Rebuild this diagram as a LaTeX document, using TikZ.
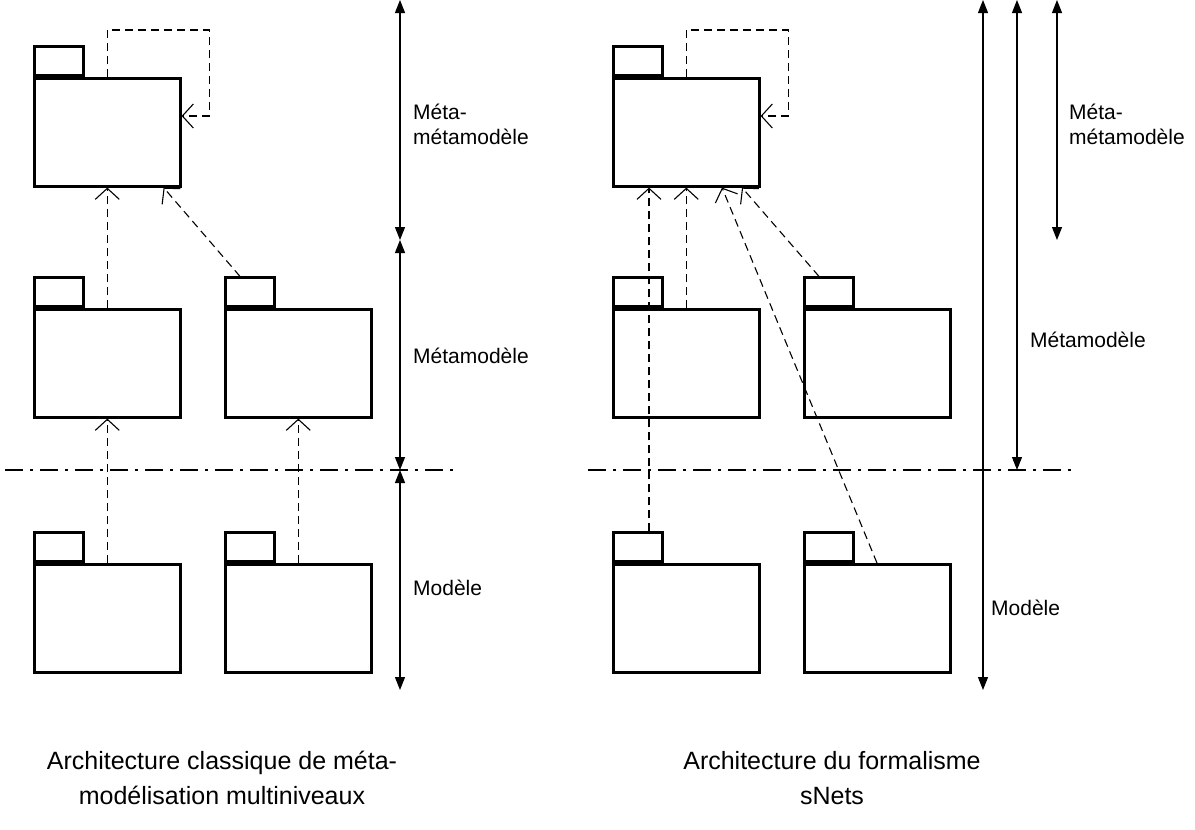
\documentclass[tikz,border=0pt]{standalone}
\usepackage{fontspec}
\setmainfont{Liberation Sans}
\usetikzlibrary{arrows.meta,calc}
\tikzset{
  pkgbody/.style={draw,line width=2.6pt,minimum width=146pt,minimum height=108pt,inner sep=0pt,anchor=north west},
  pkgtab/.style={draw,line width=2.6pt,minimum width=49pt,minimum height=29pt,inner sep=0pt,anchor=south west},
  dep/.style={line width=1.1pt,dash pattern=on 8pt off 5pt,-{Straight Barb[length=11pt,width=24pt,line width=1.1pt]}},
  dimline/.style={line width=1.1pt,{Triangle[length=13pt,width=10pt]}-{Triangle[length=13pt,width=10pt]}},
  levelline/.style={line width=2pt,dash pattern=on 18pt off 7pt on 3pt off 7pt},
  lbl/.style={anchor=west,align=left,inner sep=0pt,font=\fontsize{21}{25}\selectfont},
  caption/.style={align=center,inner sep=0pt,font=\fontsize{25}{35}\selectfont}
}
% package: tab + body
\newcommand{\pkg}[3]{%
  \node[pkgtab] (#1tab) at (#2,#3) {};
  \node[pkgbody] (#1) at (#2,#3) {};}
\begin{document}
\begin{tikzpicture}[x=1pt,y=-1pt]
\useasboundingbox (0,0) rectangle (1195,830);

% classic architecture
\pkg{mmm}{33}{77}
\pkg{mmA}{33}{308}
\pkg{mmB}{224}{308}
\pkg{mA}{33}{563}
\pkg{mB}{224}{563}

\draw[dep] (mmm.north) |- ++(102,-47) |- ($(mmm.north east)+(0,39)$);
\draw[dep] (mmA.north) -- (mmm.south);
\draw[dep] ($(mmBtab.north west)+(16,0)$) -- ($(mmm.south east)+(-18,0)$);
\draw[dep] (mA.north) -- (mmA.south);
\draw[dep] (mB.north) -- (mmB.south);

\draw[levelline] (5,470) -- (455,470);
\draw[dimline] (400,0) -- (400,240);
\draw[dimline] (400,240) -- (400,470);
\draw[dimline] (400,470) -- (400,690);

\node[lbl] (lmmm) at (413,124) {Méta-\\métamodèle};
\node[lbl] (lmm) at (413,356) {Métamodèle};
\node[lbl] (lm) at (413,588) {Modèle};

% sNets architecture
\pkg{smmm}{612}{77}
\pkg{smmA}{612}{308}
\pkg{smmB}{803}{308}
\pkg{smA}{612}{563}
\pkg{smB}{803}{563}

\draw[dep] (smmm.north) |- ++(102,-47) |- ($(smmm.north east)+(0,39)$);
\draw[dep] ($(smAtab.north west)+(37,0)$) -- ($(smmm.south west)+(37,0)$);
\draw[dep] (smmA.north) -- (smmm.south);
\draw[dep] ($(smB.north west)+(74,0)$) -- ($(smmm.south west)+(110,0)$);
\draw[dep] ($(smmBtab.north west)+(16,0)$) -- ($(smmm.south west)+(130,0)$);

\draw[levelline] (588,470) -- (1075,470);
\draw[dimline] (983,0) -- (983,690);
\draw[dimline] (1017,0) -- (1017,470);
\draw[dimline] (1057,0) -- (1057,240);

\node[lbl] (slmmm) at (1069,124) {Méta-\\métamodèle};
\node[lbl] (slmm) at (1030,340) {Métamodèle};
\node[lbl] (slm) at (991,608) {Modèle};

\node[caption] (capA) at (222,778) {Architecture classique de méta-\\modélisation multiniveaux};
\node[caption] (capB) at (832,778) {Architecture du formalisme\\sNets};
\end{tikzpicture}
\end{document}
